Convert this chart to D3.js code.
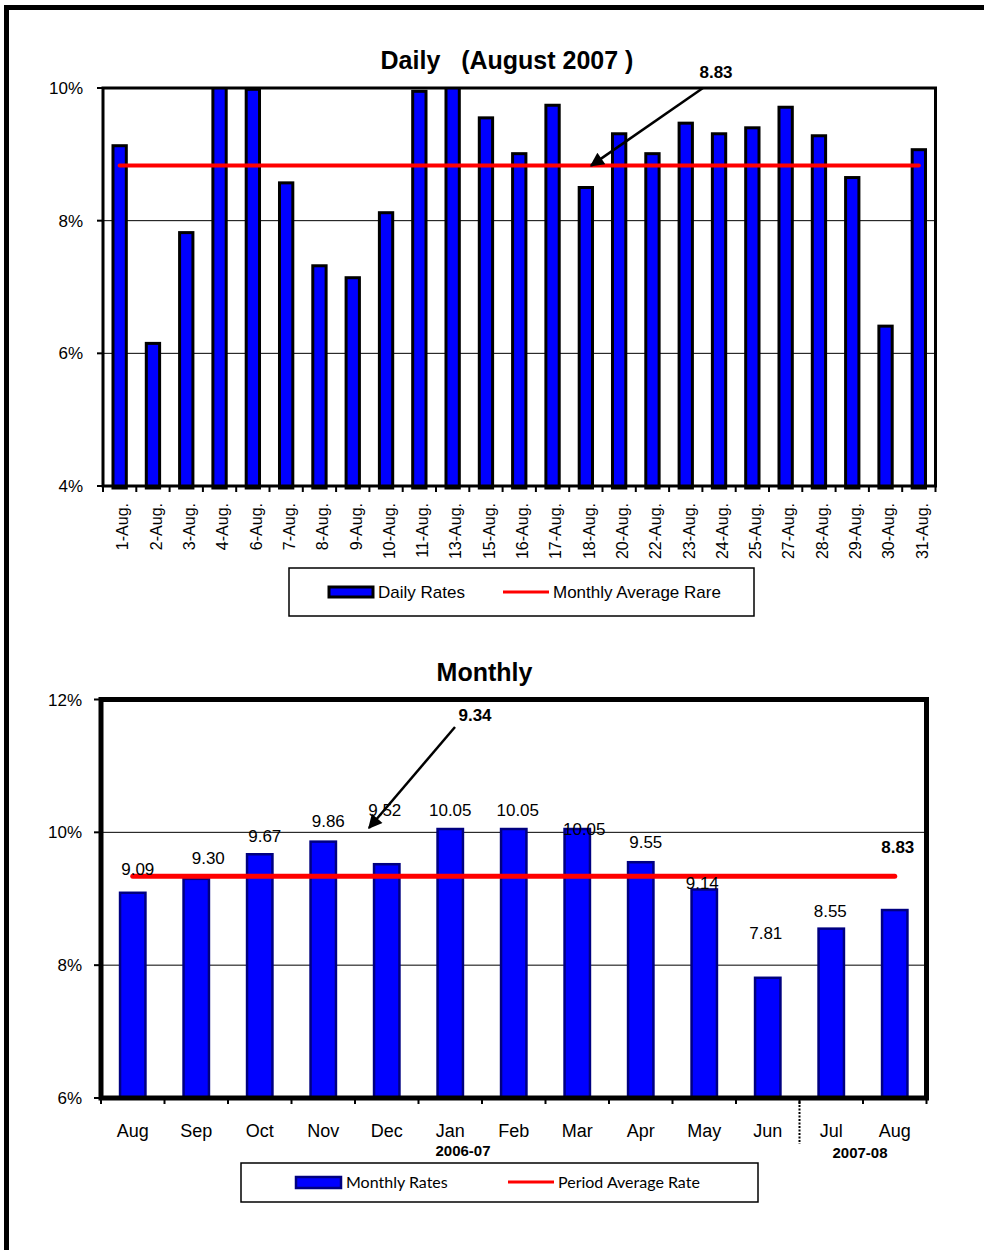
<!DOCTYPE html>
<html>
<head>
<meta charset="utf-8">
<script src="https://cdn.jsdelivr.net/npm/d3@7"></script>
<style>
  html, body { margin: 0; padding: 0; background: #fff; }
  svg { display: block; }
  text { font-family: Arial, "Liberation Sans", sans-serif; fill: #000; }
</style>
</head>
<body>
<script>
// ---------------- DATA ----------------
const dailyDays = ["1-Aug.","2-Aug.","3-Aug.","4-Aug.","6-Aug.","7-Aug.","8-Aug.","9-Aug.","10-Aug.","11-Aug.","13-Aug.","15-Aug.","16-Aug.","17-Aug.","18-Aug.","20-Aug.","22-Aug.","23-Aug.","24-Aug.","25-Aug.","27-Aug.","28-Aug.","29-Aug.","30-Aug.","31-Aug."];
const dailyRates = [9.13,6.15,7.82,10.05,9.98,8.57,7.32,7.14,8.12,9.95,10.1,9.55,9.01,9.74,8.50,9.31,9.01,9.47,9.31,9.40,9.71,9.28,8.65,6.41,9.07];
const monthlyAverage = 8.83;
const dailyTicks = [4,6,8,10];

const months = ["Aug","Sep","Oct","Nov","Dec","Jan","Feb","Mar","Apr","May","Jun","Jul","Aug"];
const monthlyRates = [9.09,9.30,9.67,9.86,9.52,10.05,10.05,10.05,9.55,9.14,7.81,8.55,8.83];
const periodAverage = 9.34;
const monthlyTicks = [6,8,10,12];
const periodLabels = ["2006-07","2007-08"];

// ---------------- DRAWING ----------------
const W = 984, H = 1250;
const svg = d3.select("body").append("svg").attr("width", W).attr("height", H);

// outer frame (only top & left visible)
svg.append("rect").attr("x",6.5).attr("y",7.5).attr("width",1100).attr("height",1400)
  .attr("fill","none").attr("stroke","#000").attr("stroke-width",5);

const defs = svg.append("defs");
defs.append("marker").attr("id","arrow").attr("viewBox","0 0 10 10")
  .attr("refX",9).attr("refY",5).attr("markerWidth",18).attr("markerHeight",14)
  .attr("markerUnits","userSpaceOnUse").attr("orient","auto")
  .append("path").attr("d","M0,0 L10,5 L0,10 z").attr("fill","#000");

// ===== TOP CHART =====
(function(){
  const L = 103, R = 935.5, T = 88, B = 486;
  const x = d3.scaleBand().domain(dailyDays.map((d,i)=>i)).range([L,R]).paddingInner(0.6).paddingOuter(0.3);
  const y = d3.scaleLinear().domain([4,10]).range([B,T]);
  const g = svg.append("g");

  defs.append("clipPath").attr("id","clipTop").append("rect")
    .attr("x",L).attr("y",T).attr("width",R-L).attr("height",B-T+4);

  // gridlines
  g.selectAll(".grid").data(dailyTicks.filter(t=>t>4 && t<10)).join("line")
    .attr("x1",L).attr("x2",R).attr("y1",d=>y(d)).attr("y2",d=>y(d))
    .attr("stroke","#000").attr("stroke-width",1);

  // bars
  g.append("g").attr("clip-path","url(#clipTop)")
    .selectAll("rect").data(dailyRates).join("rect")
    .attr("x",(d,i)=>x(i)).attr("width",x.bandwidth())
    .attr("y",d=>y(d)).attr("height",d=>B-y(d)+2)
    .attr("fill","#0000FF").attr("stroke","#000").attr("stroke-width",3);

  // average line
  g.append("line")
    .attr("x1",x(0)+x.bandwidth()/2).attr("x2",x(dailyDays.length-1)+x.bandwidth()/2)
    .attr("y1",y(monthlyAverage)).attr("y2",y(monthlyAverage))
    .attr("stroke","#FF0000").attr("stroke-width",4).attr("stroke-linecap","round");

  // frame
  g.append("rect").attr("x",L).attr("y",T).attr("width",R-L).attr("height",B-T)
    .attr("fill","none").attr("stroke","#000").attr("stroke-width",3);

  // y axis ticks & labels
  g.selectAll(".yt").data(dailyTicks).join("line")
    .attr("x1",L-6).attr("x2",L).attr("y1",d=>y(d)).attr("y2",d=>y(d))
    .attr("stroke","#000").attr("stroke-width",2);
  g.selectAll(".yl").data(dailyTicks).join("text")
    .attr("x",83).attr("y",d=>y(d)).attr("dy","0.36em").attr("text-anchor","end")
    .style("font-size","17px").text(d=>d+"%");

  // x ticks at band boundaries
  const step = x.step();
  g.selectAll(".xt").data(d3.range(dailyDays.length+1)).join("line")
    .attr("x1",i=>L+i*step).attr("x2",i=>L+i*step).attr("y1",B).attr("y2",B+6)
    .attr("stroke","#000").attr("stroke-width",2);

  // x labels rotated
  g.selectAll(".xl").data(dailyDays).join("text")
    .attr("transform",(d,i)=>`translate(${x(i)+x.bandwidth()/2+3},503) rotate(-90)`)
    .attr("dy","0.36em").attr("text-anchor","end")
    .style("font-size","16px").text(d=>d);

  // title
  svg.append("text").attr("x",507).attr("y",69).attr("text-anchor","middle")
    .style("font-size","25px").style("font-weight","bold").style("white-space","pre")
    .attr("xml:space","preserve").text("Daily   (August 2007 )");

  // annotation
  svg.append("text").attr("x",716).attr("y",78).attr("text-anchor","middle")
    .style("font-size","17px").style("font-weight","bold").text(monthlyAverage.toFixed(2));
  svg.append("line").attr("x1",703).attr("y1",88).attr("x2",591).attr("y2",y(monthlyAverage))
    .attr("stroke","#000").attr("stroke-width",2.5).attr("marker-end","url(#arrow)");

  // legend
  const lg = svg.append("g");
  lg.append("rect").attr("x",289).attr("y",568).attr("width",465).attr("height",48)
    .attr("fill","#fff").attr("stroke","#000").attr("stroke-width",1.5);
  lg.append("rect").attr("x",329).attr("y",587).attr("width",44).attr("height",10)
    .attr("fill","#0000FF").attr("stroke","#000").attr("stroke-width",3);
  lg.append("text").attr("x",378).attr("y",598).style("font-size","17px").text("Daily Rates");
  lg.append("line").attr("x1",503).attr("x2",549).attr("y1",592).attr("y2",592)
    .attr("stroke","#FF0000").attr("stroke-width",3);
  lg.append("text").attr("x",553).attr("y",598).style("font-size","17px").text("Monthly Average Rare");
})();

// ===== BOTTOM CHART =====
(function(){
  const L = 101, R = 926.5, T = 699.5, B = 1098;
  const x = d3.scaleBand().domain(months.map((d,i)=>i)).range([L,R]).paddingInner(0.6).paddingOuter(0.3);
  const y = d3.scaleLinear().domain([6,12]).range([B,T]);
  const g = svg.append("g");
  const cx = i => x(i)+x.bandwidth()/2;

  // gridlines
  g.selectAll(".grid").data(monthlyTicks.filter(t=>t>6 && t<12)).join("line")
    .attr("x1",L).attr("x2",R).attr("y1",d=>y(d)).attr("y2",d=>y(d))
    .attr("stroke","#000").attr("stroke-width",1);

  // bars
  g.selectAll(".bar").data(monthlyRates).join("rect")
    .attr("x",(d,i)=>x(i)).attr("width",x.bandwidth())
    .attr("y",d=>y(d)).attr("height",d=>B-y(d))
    .attr("fill","#0000FF").attr("stroke","#000080").attr("stroke-width",2.5);

  // average line
  g.append("line").attr("x1",cx(0)).attr("x2",cx(months.length-1))
    .attr("y1",y(periodAverage)).attr("y2",y(periodAverage))
    .attr("stroke","#FF0000").attr("stroke-width",5).attr("stroke-linecap","round");

  // frame
  g.append("rect").attr("x",L).attr("y",T).attr("width",R-L).attr("height",B-T)
    .attr("fill","none").attr("stroke","#000").attr("stroke-width",5);

  // y ticks & labels
  g.selectAll(".yt").data(monthlyTicks).join("line")
    .attr("x1",L-7).attr("x2",L).attr("y1",d=>y(d)).attr("y2",d=>y(d))
    .attr("stroke","#000").attr("stroke-width",2);
  g.selectAll(".yl").data(monthlyTicks).join("text")
    .attr("x",82).attr("y",d=>y(d)).attr("dy","0.36em").attr("text-anchor","end")
    .style("font-size","17px").text(d=>d+"%");

  // x ticks
  const step = x.step();
  g.selectAll(".xt").data(d3.range(months.length+1)).join("line")
    .attr("x1",i=>L+i*step).attr("x2",i=>L+i*step).attr("y1",B).attr("y2",B+6)
    .attr("stroke","#000").attr("stroke-width",2);

  // dotted separator between Jun and Jul
  g.append("line").attr("x1",L+11*step).attr("x2",L+11*step).attr("y1",B).attr("y2",1144)
    .attr("stroke","#000").attr("stroke-width",2).attr("stroke-dasharray","2,1.5");

  // month labels
  g.selectAll(".xl").data(months).join("text")
    .attr("x",(d,i)=>cx(i)).attr("y",1137).attr("text-anchor","middle")
    .style("font-size","18px").text(d=>d);

  // period labels
  g.append("text").attr("x",463).attr("y",1156).attr("text-anchor","middle")
    .style("font-size","15px").style("font-weight","bold").text(periodLabels[0]);
  g.append("text").attr("x",860).attr("y",1158).attr("text-anchor","middle")
    .style("font-size","15px").style("font-weight","bold").text(periodLabels[1]);

  // data labels (manual placement nudges as in the original)
  const labelDx = [5,12,5,5,-2,0,4,7,5,-2,-2,-1,3];
  const labelDy = [24,21,18,21,54,19,19,0,20,7,45,18,63];
  g.selectAll(".dl").data(monthlyRates).join("text")
    .attr("x",(d,i)=>cx(i)+labelDx[i]).attr("y",(d,i)=>y(d)-labelDy[i])
    .attr("dy","0.36em").attr("text-anchor","middle")
    .style("font-size","17px")
    .style("font-weight",(d,i)=>i===months.length-1?"bold":"normal")
    .text(d=>d.toFixed(2));

  // title
  svg.append("text").attr("x",484.5).attr("y",681).attr("text-anchor","middle")
    .style("font-size","25px").style("font-weight","bold").text("Monthly");

  // annotation
  svg.append("text").attr("x",475).attr("y",721).attr("text-anchor","middle")
    .style("font-size","17px").style("font-weight","bold").text(periodAverage.toFixed(2));
  svg.append("line").attr("x1",455).attr("y1",727).attr("x2",369).attr("y2",828)
    .attr("stroke","#000").attr("stroke-width",2.5).attr("marker-end","url(#arrow)");

  // legend
  const lg = svg.append("g");
  lg.append("rect").attr("x",241).attr("y",1163).attr("width",517).attr("height",39)
    .attr("fill","#fff").attr("stroke","#000").attr("stroke-width",1.5);
  lg.append("rect").attr("x",296).attr("y",1177).attr("width",45).attr("height",11)
    .attr("fill","#0000FF").attr("stroke","#000080").attr("stroke-width",2.5);
  lg.append("text").attr("x",346).attr("y",1188).style("font-family","Lato, 'Open Sans', sans-serif")
    .style("font-size","16px").text("Monthly Rates");
  lg.append("line").attr("x1",508).attr("x2",554).attr("y1",1182).attr("y2",1182)
    .attr("stroke","#FF0000").attr("stroke-width",3);
  lg.append("text").attr("x",558).attr("y",1188).style("font-family","Lato, 'Open Sans', sans-serif")
    .style("font-size","16px").text("Period Average Rate");
})();
</script>
</body>
</html>
